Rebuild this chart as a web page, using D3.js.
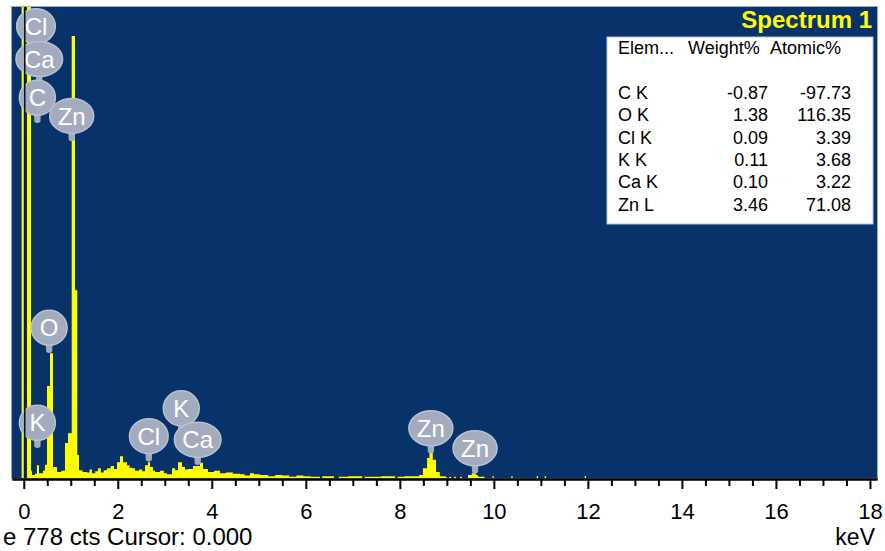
<!DOCTYPE html>
<html><head><meta charset="utf-8">
<script src="https://cdn.jsdelivr.net/npm/d3@7/dist/d3.min.js"></script>
<style>
html,body{margin:0;padding:0;background:#fff;}
svg{display:block;font-family:"Liberation Sans",Arial,sans-serif;}
</style></head><body>
<svg id="chart" width="885" height="551"></svg>
<script>
// EDS spectrum as a step histogram: each count holds from its energy to the next energy
const stepKeV = [-0.25,-0.045,0.0,0.07,0.155,0.175,0.24,0.28,0.325,0.41,0.45,0.495,0.558,0.622,0.707,0.80,0.877,0.941,1.02,1.09,1.139,1.175,1.25,1.345,1.40,1.45,1.52,1.58,1.64,1.70,1.771,1.85,1.92,1.984,2.047,2.111,2.196,2.25,2.302,2.366,2.45,2.52,2.579,2.642,2.685,2.75,2.791,2.9,2.98,3.047,3.153,3.22,3.281,3.366,3.43,3.494,3.6,3.749,3.813,3.919,4.05,4.175,4.3,4.45,4.6,4.7,4.813,4.9,5.026,5.2,5.35,5.5,5.65,5.8,5.95,6.1,6.3,6.35,6.6,6.7,6.9,7.2,7.25,7.6,7.9,7.95,8.1,8.41,8.49,8.58,8.63,8.70,8.77,8.85,8.96,9.0,9.05,9.09,9.15,9.19,9.28,9.32,9.45,9.53,9.62,9.66,9.8,9.97,10.0,10.37,10.4,10.91,10.94,11.08,11.11,11.93,11.96,18.15];
const stepCounts = [0,2600,0,2100,12,5,7,21,8,12,22,152,206,18,10,12,58,74,730,310,38,13,10,9,14,8,11,16,9,13,16,20,15,26,36,26,21,17,16,12,14,11,21,26,18,12,10,12,8,6,16,13,26,18,14,15,20,25,15,10,12,8,9,7,6,4,8,6,5,3,5,4,2,4,3,2,0,3,0,2,3,0,2,3,0,2,3,5,16,33,45,30,10,3,2,0,2,0,2,0,2,0,5,8,5,2,0,3,0,3,0,3,0,3,0,3,0,0];

// Peak identification markers: element, line energy (keV), count level the pin points at
const peakElements = ["Cl","Ca","C","Zn","O","K","Cl","K","Ca","Zn","Zn"];
const peakKeV = [0.26,0.33,0.29,1.02,0.54,0.29,2.66,3.35,3.70,8.66,9.60];
const peakPinCounts = [704,650,586,556,206,49,27,73,21,40,7];

// Quantification results
const tableElements = ["C K","O K","Cl K","K K","Ca K","Zn L"];
const weightPct = [-0.87,1.38,0.09,0.11,0.10,3.46];
const atomicPct = [-97.73,116.35,3.39,3.68,3.22,71.08];

const majorTicks = [0,2,4,6,8,10,12,14,16,18];
const fullScaleCounts = 778;
const cursorKeV = 0;
const spectrumTitle = "Spectrum 1";
const statusText = "e 778 cts Cursor: 0.000";

const svg = d3.select("#chart");
const plot = {left:12, right:877, top:7, bottom:478};
const NAVY = "#07326a", YELLOW = "#ffff00", BUBBLE = "#a3acbf";

const x = d3.scaleLinear().domain([-0.25, 18.15]).range([plot.left, plot.right]);
const y = d3.scaleLinear().domain([0, fullScaleCounts]).range([plot.bottom, plot.top]);

svg.append("defs").append("clipPath").attr("id","plotClip")
  .append("rect").attr("x",plot.left).attr("y",plot.top)
  .attr("width",plot.right-plot.left).attr("height",plot.bottom-plot.top);

// background panel
svg.append("rect").attr("x",plot.left-0.5).attr("y",plot.top-0.5)
  .attr("width",plot.right-plot.left+1).attr("height",plot.bottom-plot.top+1)
  .attr("fill",NAVY).attr("stroke","#9aa8c4").attr("stroke-width",1);

const g = svg.append("g").attr("clip-path","url(#plotClip)");

// spectrum
const spectrum = stepKeV.map((e,i)=>({e, c:stepCounts[i]}));
const area = d3.area().x(d=>x(d.e)).y0(y(0)).y1(d=>y(d.c)).curve(d3.curveStepAfter);
g.append("path").datum(spectrum).attr("d",area).attr("fill",YELLOW).attr("stroke","none");

// peak markers
const markers = peakElements.map((el,i)=>({el, e:peakKeV[i], c:peakPinCounts[i]}));
const labelSize = 24;
const measure = svg.append("text").attr("font-size",labelSize).attr("visibility","hidden");
const ry = 17.5, stemH = 8;
const mg = g.selectAll("g.marker").data(markers).join("g").attr("class","marker")
  .attr("transform",d=>`translate(${x(d.e)},${y(d.c)})`);
mg.append("path").attr("d",`M-3.5,${-stemH-3} L3.5,${-stemH-3} L3,-1.5 Q0,1 -3,-1.5 Z`).attr("fill",BUBBLE);
mg.each(function(d){
  measure.text(d.el);
  const w = measure.node().getComputedTextLength();
  const rx = Math.max(18, w/2+8);
  const s = d3.select(this);
  s.append("ellipse").attr("cx",0).attr("cy",-stemH-ry).attr("rx",rx).attr("ry",ry)
    .attr("fill",BUBBLE).attr("stroke","#b9c1d0").attr("stroke-width",1.5);
  s.append("text").attr("x",0).attr("y",-stemH-ry).attr("dy","0.36em")
    .attr("text-anchor","middle").attr("font-size",labelSize).attr("fill","#ffffff").text(d.el);
});
measure.remove();

// cursor line
g.append("line").attr("x1",x(cursorKeV)+1).attr("x2",x(cursorKeV)+1)
  .attr("y1",plot.top).attr("y2",plot.bottom).attr("stroke","#111").attr("stroke-width",1.5);

// x axis: minor ticks every 0.5 keV, labelled major ticks every 2 keV
const axisY = 479;
const minor = d3.range(0, 18.01, 0.5).filter(v=>v%2!==0);
const minorAxis = svg.append("g").attr("transform",`translate(0,${axisY})`)
  .call(d3.axisBottom(x).tickValues(minor).tickSize(7).tickSizeOuter(0).tickFormat(""));
const majorAxis = svg.append("g").attr("transform",`translate(0,${axisY})`)
  .call(d3.axisBottom(x).tickValues(majorTicks).tickSize(10).tickSizeOuter(0).tickPadding(14).tickFormat(d3.format("d")));
[minorAxis, majorAxis].forEach(a=>{
  a.select(".domain").attr("stroke","#000").attr("stroke-width",2);
  a.selectAll(".tick line").attr("stroke","#000").attr("stroke-width",2);
});
majorAxis.selectAll(".tick text").attr("font-size",22).attr("fill","#000")
  .attr("font-family","'Liberation Sans',Arial,sans-serif");

svg.append("text").attr("x",875).attr("y",545).attr("text-anchor","end")
  .attr("font-size",23).attr("fill","#000").text("keV");
svg.append("text").attr("x",3).attr("y",545)
  .attr("font-size",24).attr("fill","#000").text(statusText);

// title and results table
svg.append("text").attr("x",872).attr("y",28).attr("text-anchor","end")
  .attr("font-size",24).attr("font-weight","bold").attr("fill",YELLOW).text(spectrumTitle);

const tbl = svg.append("g");
tbl.append("rect").attr("x",607).attr("y",37).attr("width",266).attr("height",187)
  .attr("fill","#fff").attr("stroke","#b8c2d6").attr("stroke-width",1);
function t(xp, yp, s, anchor){
  tbl.append("text").attr("x",xp).attr("y",yp).attr("text-anchor",anchor||"start")
    .attr("font-size",18).attr("fill","#000").text(s);
}
t(618,54,"Elem...");
t(688,54,"Weight%");
t(770,54,"Atomic%");
tableElements.forEach((el,i)=>{
  const yy = 99 + i*22.3;
  t(618, yy, el);
  t(768, yy, weightPct[i].toFixed(2), "end");
  t(851, yy, atomicPct[i].toFixed(2), "end");
});
</script>
</body></html>
